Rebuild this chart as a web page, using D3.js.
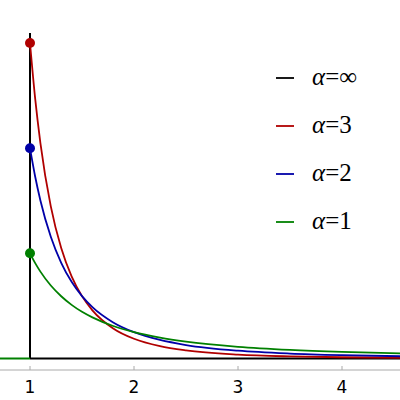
<!DOCTYPE html>
<html><head><meta charset="utf-8">
<script src="https://cdn.jsdelivr.net/npm/d3@7"></script>
<style>body{margin:0;background:#fff}</style>
</head><body><svg id="c" width="400" height="400"></svg>
<script>
const xs = [1, 1.05, 1.1, 1.2, 1.3, 1.4, 1.5, 1.6, 1.8, 2, 2.25, 2.5, 3, 3.5, 4, 4.6];
const alpha3 = [3, 2.468, 2.049, 1.447, 1.050, 0.781, 0.593, 0.458, 0.286, 0.1875, 0.117, 0.0768, 0.037, 0.020, 0.0117, 0.0067];
const alpha2 = [2, 1.728, 1.503, 1.157, 0.910, 0.729, 0.593, 0.488, 0.343, 0.25, 0.176, 0.128, 0.074, 0.0466, 0.03125, 0.0205];
const alpha1 = [1, 0.907, 0.826, 0.694, 0.592, 0.510, 0.444, 0.391, 0.309, 0.25, 0.198, 0.16, 0.111, 0.0816, 0.0625, 0.0473];
const xTicks = [1, 2, 3, 4];
const legendLabels = ["α=∞", "α=3", "α=2", "α=1"];
const colors = ["#000000", "#b00000", "#0000a8", "#008000"];

const svg = d3.select("#c");
const x = d3.scaleLinear().domain([1, 4]).range([30, 342]);
const y = d3.scaleLinear().domain([0, 3]).range([358.5, 43]);

// axis
svg.append("line").attr("x1", 0).attr("x2", 400).attr("y1", 370).attr("y2", 370)
    .attr("stroke", "#aaa").attr("stroke-width", 1);
xTicks.forEach(t => {
    svg.append("line").attr("x1", x(t)).attr("x2", x(t)).attr("y1", 366).attr("y2", 370)
        .attr("stroke", "#aaa");
    svg.append("text").attr("x", x(t)).attr("y", 393).attr("text-anchor", "middle")
        .attr("font-family", "DejaVu Sans, sans-serif").attr("font-size", 17).text(t);
});

// alpha = infinity: spike at x=1 and zero baseline
svg.append("line").attr("x1", x(1)).attr("x2", x(1)).attr("y1", 33).attr("y2", y(0))
    .attr("stroke", colors[0]).attr("stroke-width", 2);
svg.append("line").attr("x1", x(1)).attr("x2", 400).attr("y1", y(0)).attr("y2", y(0))
    .attr("stroke", colors[0]).attr("stroke-width", 2);

const line = d3.line().x(d => x(d[0])).y(d => y(d[1])).curve(d3.curveMonotoneX);
[alpha3, alpha2, alpha1].forEach((s, i) => {
    const c = colors[i + 1];
    svg.append("path").datum(xs.map((v, j) => [v, s[j]]))
        .attr("d", line).attr("fill", "none").attr("stroke", c).attr("stroke-width", 1.8);
});
svg.append("line").attr("x1", 0).attr("x2", x(1)).attr("y1", y(0)).attr("y2", y(0))
    .attr("stroke", colors[3]).attr("stroke-width", 2);
[alpha3, alpha2, alpha1].forEach((s, i) => {
    svg.append("circle").attr("cx", x(xs[0])).attr("cy", y(s[0])).attr("r", 5).attr("fill", colors[i + 1]);
});

// legend
legendLabels.forEach((l, i) => {
    const ly = 78 + i * 48;
    svg.append("line").attr("x1", 276).attr("x2", 294).attr("y1", ly).attr("y2", ly)
        .attr("stroke", colors[i]).attr("stroke-width", 1.8);
    const t = svg.append("text").attr("x", 312).attr("y", ly + 7)
        .attr("font-family", "Liberation Serif, serif").attr("font-size", 25);
    t.append("tspan").attr("font-style", "italic").text("α");
    t.append("tspan").text(l.slice(1));
});
</script></body></html>
